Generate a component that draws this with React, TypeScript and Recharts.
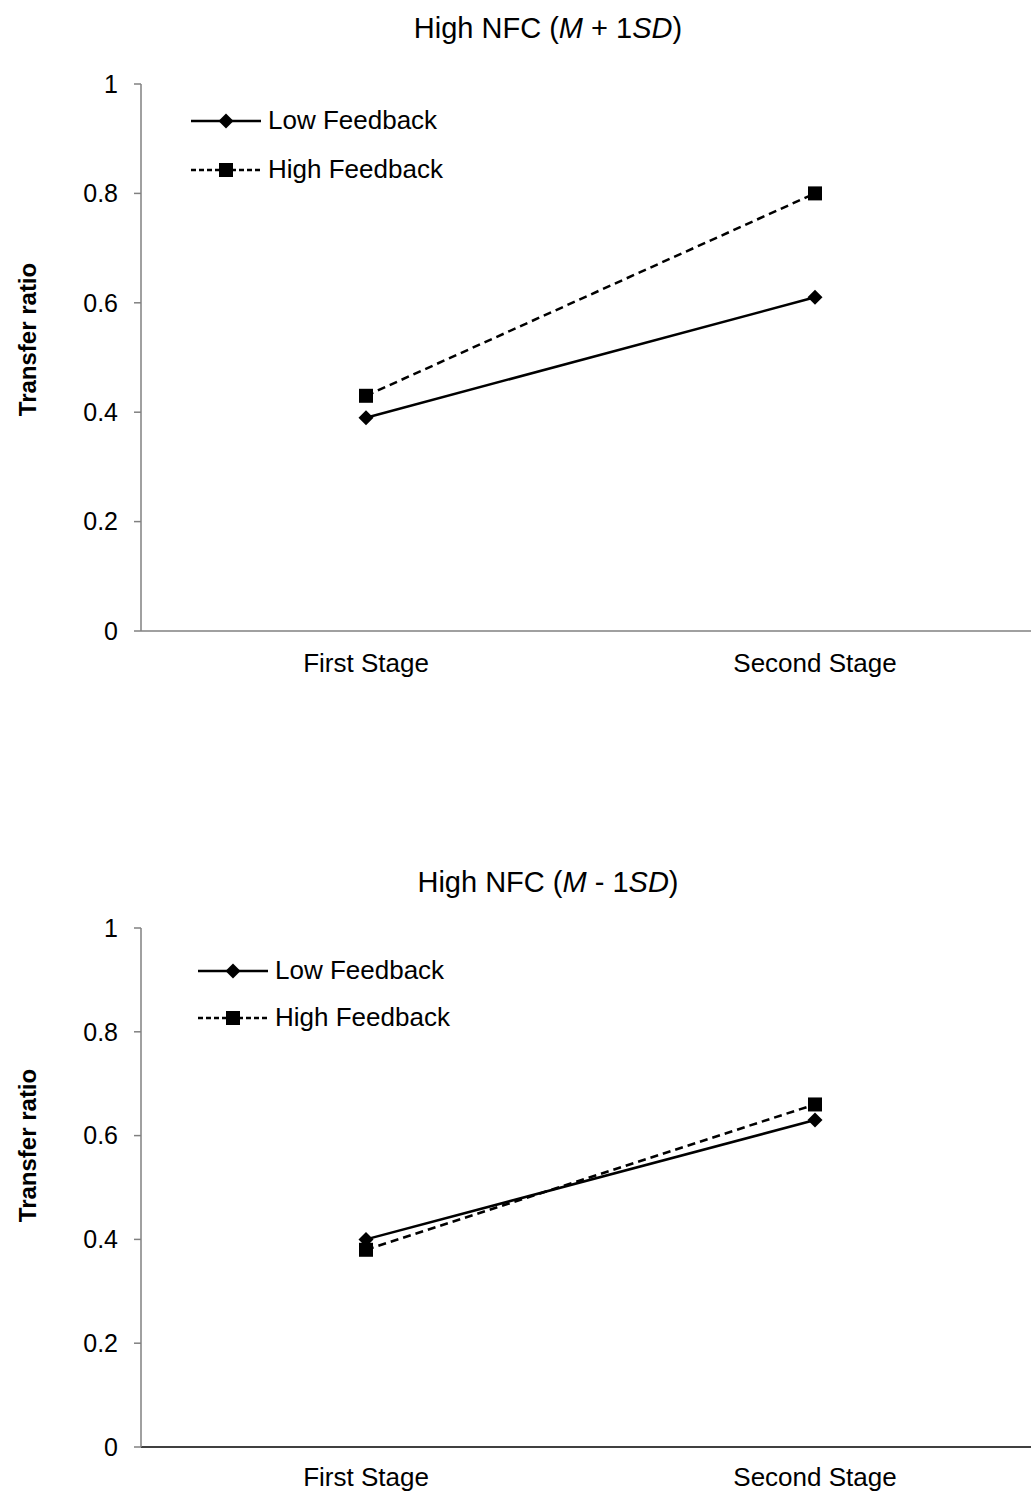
import { LineChart, Line, XAxis, YAxis } from "recharts";

const stages = ["First Stage", "Second Stage"];
const yTicks = [0, 0.2, 0.4, 0.6, 0.8, 1];
const seriesNames = ["Low Feedback", "High Feedback"];

// High NFC (M + 1SD)
const plusLow = [0.39, 0.61];
const plusHigh = [0.43, 0.8];
// High NFC (M - 1SD)
const minusLow = [0.4, 0.63];
const minusHigh = [0.38, 0.66];

const FONT = "'Liberation Sans', Arial, sans-serif";

const Diamond = (props: any) => {
  const { cx, cy } = props;
  if (cx == null || cy == null) return null;
  const r = 7.5;
  return (
    <polygon
      key={`d-${cx}`}
      points={`${cx},${cy - r} ${cx + r},${cy} ${cx},${cy + r} ${cx - r},${cy}`}
      fill="#000"
    />
  );
};

const Square = (props: any) => {
  const { cx, cy } = props;
  if (cx == null || cy == null) return null;
  return <rect key={`s-${cx}`} x={cx - 7} y={cy - 7} width={14} height={14} fill="#000" />;
};

function LegendBox({ left, top, rowH }: { left: number; top: number; rowH: number }) {
  return (
    <div style={{ position: "absolute", left, top, fontFamily: FONT }}>
      {seriesNames.map((name, i) => {
        const dashed = i === 1;
        return (
          <div key={name} style={{ display: "flex", alignItems: "center", height: rowH }}>
            <svg width={70} height={20}>
              <line
                x1={0}
                y1={10}
                x2={70}
                y2={10}
                stroke="#000"
                strokeWidth={2.5}
                strokeDasharray={dashed ? "5 3" : undefined}
              />
              {dashed ? <Square cx={35} cy={10} /> : <Diamond cx={35} cy={10} />}
            </svg>
            <span style={{ marginLeft: 7, fontSize: 26, color: "#000" }}>{name}</span>
          </div>
        );
      })}
    </div>
  );
}

type PanelProps = {
  top: number;
  height: number;
  marginTop: number;
  marginBottom: number;
  low: number[];
  high: number[];
  sign: string;
  titleY: number;
  legendLeft: number;
  legendTop: number;
  legendRow: number;
  labelShift: number;
  xAxisColor: string;
  xTickMargin: number;
};

function Panel(p: PanelProps) {
  const data = stages.map((s, i) => ({ stage: s, low: p.low[i], high: p.high[i] }));
  return (
    <div style={{ position: "absolute", left: 0, top: p.top, width: 1031, height: p.height }}>
      <LineChart
        width={1060}
        height={p.height}
        data={data}
        margin={{ top: p.marginTop, right: 20, bottom: p.marginBottom, left: 0 }}
        style={{ position: "absolute", left: 0, top: 0, fontFamily: FONT }}
      >
        <XAxis
          dataKey="stage"
          height={40}
          interval={0}
          padding={{ left: 225, right: 225 }}
          tickLine={false}
          axisLine={{ stroke: p.xAxisColor, strokeWidth: 1.5 }}
          tick={{ fontSize: 26, fill: "#000", fontFamily: FONT }}
          tickMargin={p.xTickMargin}
        />
        <YAxis
          width={141}
          domain={[0, 1]}
          ticks={yTicks}
          interval={0}
          tickSize={7}
          tickMargin={16}
          axisLine={{ stroke: "#808080", strokeWidth: 1.5 }}
          tickLine={{ stroke: "#808080", strokeWidth: 1.5 }}
          tick={{ fontSize: 25, fill: "#000", fontFamily: FONT }}
          label={{
            content: ({ viewBox }: any) => {
              const cy = viewBox.y + viewBox.height / 2 + p.labelShift;
              return (
                <text
                  x={27}
                  y={cy}
                  transform={`rotate(-90 27 ${cy})`}
                  textAnchor="middle"
                  dominantBaseline="central"
                  fontSize={24}
                  fontWeight="bold"
                  fontFamily={FONT}
                  fill="#000"
                >
                  Transfer ratio
                </text>
              );
            },
          }}
        />
        <Line
          dataKey="low"
          name={seriesNames[0]}
          stroke="#000"
          strokeWidth={2.5}
          dot={<Diamond />}
          activeDot={false}
          isAnimationActive={false}
        />
        <Line
          dataKey="high"
          name={seriesNames[1]}
          stroke="#000"
          strokeWidth={2.5}
          strokeDasharray="8 5"
          dot={<Square />}
          activeDot={false}
          isAnimationActive={false}
        />
      </LineChart>
      <div
        style={{
          position: "absolute",
          left: 0,
          width: 1096,
          top: p.titleY - 17,
          textAlign: "center",
          fontFamily: FONT,
          fontSize: 29,
          color: "#000",
          lineHeight: "34px",
        }}
      >
        High NFC (<i>M</i>
        {p.sign}1<i>SD</i>)
      </div>
      <LegendBox left={p.legendLeft} top={p.legendTop} rowH={p.legendRow} />
    </div>
  );
}

export default function App() {
  return (
    <div
      style={{
        position: "absolute",
        left: 0,
        top: 0,
        width: 1031,
        height: 1495,
        overflow: "hidden",
        background: "#fff",
      }}
    >
      <Panel
        top={0}
        height={700}
        marginTop={84}
        marginBottom={29}
        low={plusLow}
        high={plusHigh}
        sign=" + "
        titleY={28}
        legendLeft={191}
        legendTop={96}
        legendRow={49}
        labelShift={-18}
        xAxisColor="#808080"
        xTickMargin={17}
      />
      <Panel
        top={850}
        height={645}
        marginTop={78}
        marginBottom={8}
        low={minusLow}
        high={minusHigh}
        sign=" - "
        titleY={32}
        legendLeft={198}
        legendTop={97}
        legendRow={47}
        labelShift={-42}
        xAxisColor="#000"
        xTickMargin={15}
      />
    </div>
  );
}
